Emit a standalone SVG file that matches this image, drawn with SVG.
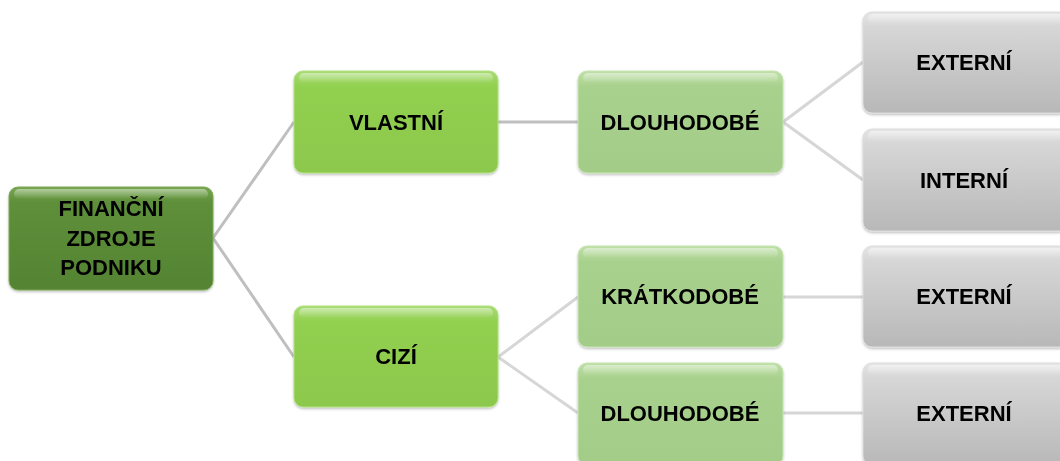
<svg xmlns="http://www.w3.org/2000/svg" width="1060" height="461" viewBox="0 0 1060 461">
<defs>
<linearGradient id="gRoot" x1="0" y1="0" x2="0" y2="1"><stop offset="0" stop-color="#76a650"/><stop offset="0.15" stop-color="#5e8f3a"/><stop offset="1" stop-color="#548432"/></linearGradient>
<linearGradient id="gL1" x1="0" y1="0" x2="0" y2="1"><stop offset="0" stop-color="#a8dc74"/><stop offset="0.15" stop-color="#92d050"/><stop offset="1" stop-color="#8cc84c"/></linearGradient>
<linearGradient id="gL2" x1="0" y1="0" x2="0" y2="1"><stop offset="0" stop-color="#bfe0a8"/><stop offset="0.15" stop-color="#a9d18e"/><stop offset="1" stop-color="#a3cc88"/></linearGradient>
<linearGradient id="gL3" x1="0" y1="0" x2="0" y2="1"><stop offset="0" stop-color="#e6e6e6"/><stop offset="0.15" stop-color="#d6d6d6"/><stop offset="1" stop-color="#b8b8b8"/></linearGradient>
<linearGradient id="gHi" x1="0" y1="0" x2="0" y2="1"><stop offset="0" stop-color="#ffffff" stop-opacity="0.45"/><stop offset="1" stop-color="#ffffff" stop-opacity="0"/></linearGradient>
<filter id="sh" x="-10%" y="-10%" width="120%" height="130%"><feDropShadow dx="0" dy="1.5" stdDeviation="1.2" flood-color="#000" flood-opacity="0.25"/></filter>
</defs>
<style>
.t{font-family:"Liberation Sans",Arial,sans-serif;font-weight:bold;font-size:22px;fill:#000;text-anchor:middle}
.hi{fill:url(#gHi)}
.root{fill:url(#gRoot);stroke:#7ca857;stroke-width:1}
.l1{fill:url(#gL1);stroke:#b2e080;stroke-width:1}
.l2{fill:url(#gL2);stroke:#c6e4b2;stroke-width:1}
.l3{fill:url(#gL3);stroke:#dcdcdc;stroke-width:1}
.c{fill:none;stroke:#bfbfbf;stroke-width:3}
.c2{fill:none;stroke:#d6d6d6;stroke-width:3}
</style>
<g id="connectors">
<polyline class="c" points="294,122 213,238 294,357"/>
<line class="c" x1="498" y1="122" x2="578" y2="122"/>
<polyline class="c2" points="863,62 783,122 863,180"/>
<polyline class="c2" points="578,297 498,357 578,413"/>
<line class="c2" x1="783" y1="297" x2="863" y2="297"/>
<line class="c2" x1="783" y1="413" x2="863" y2="413"/>
</g>
<g id="n-root" filter="url(#sh)">
<rect class="root" x="9" y="187" width="204" height="103" rx="9"/>
<rect class="hi" x="14" y="189" width="194" height="10" rx="5"/>
<text class="t" x="111" y="216">FINANČNÍ</text>
<text class="t" x="111" y="246">ZDROJE</text>
<text class="t" x="111" y="275">PODNIKU</text>
</g>
<g id="n-vlastni" filter="url(#sh)">
<rect class="l1" x="294" y="71" width="204" height="102" rx="9"/>
<rect class="hi" x="299" y="73" width="194" height="10" rx="5"/>
<text class="t" x="396" y="130">VLASTNÍ</text>
</g>
<g id="n-cizi" filter="url(#sh)">
<rect class="l1" x="294" y="306" width="204" height="101" rx="9"/>
<rect class="hi" x="299" y="308" width="194" height="10" rx="5"/>
<text class="t" x="396" y="364">CIZÍ</text>
</g>
<g id="n-dlouho1" filter="url(#sh)">
<rect class="l2" x="578" y="71" width="205" height="102" rx="9"/>
<rect class="hi" x="583" y="73" width="195" height="10" rx="5"/>
<text class="t" x="680" y="130">DLOUHODOBÉ</text>
</g>
<g id="n-kratko" filter="url(#sh)">
<rect class="l2" x="578" y="246" width="205" height="101" rx="9"/>
<rect class="hi" x="583" y="248" width="195" height="10" rx="5"/>
<text class="t" x="680" y="304">KRÁTKODOBÉ</text>
</g>
<g id="n-dlouho2" filter="url(#sh)">
<rect class="l2" x="578" y="363" width="205" height="102" rx="9"/>
<rect class="hi" x="583" y="365" width="195" height="10" rx="5"/>
<text class="t" x="680" y="421">DLOUHODOBÉ</text>
</g>
<g id="n-ext1" filter="url(#sh)">
<rect class="l3" x="863" y="12" width="205" height="101" rx="9"/>
<rect class="hi" x="868" y="14" width="195" height="10" rx="5"/>
<text class="t" x="964" y="70">EXTERNÍ</text>
</g>
<g id="n-int" filter="url(#sh)">
<rect class="l3" x="863" y="129" width="205" height="102" rx="9"/>
<rect class="hi" x="868" y="131" width="195" height="10" rx="5"/>
<text class="t" x="964" y="188">INTERNÍ</text>
</g>
<g id="n-ext2" filter="url(#sh)">
<rect class="l3" x="863" y="246" width="205" height="101" rx="9"/>
<rect class="hi" x="868" y="248" width="195" height="10" rx="5"/>
<text class="t" x="964" y="304">EXTERNÍ</text>
</g>
<g id="n-ext3" filter="url(#sh)">
<rect class="l3" x="863" y="363" width="205" height="102" rx="9"/>
<rect class="hi" x="868" y="365" width="195" height="10" rx="5"/>
<text class="t" x="964" y="421">EXTERNÍ</text>
</g>
</svg>
